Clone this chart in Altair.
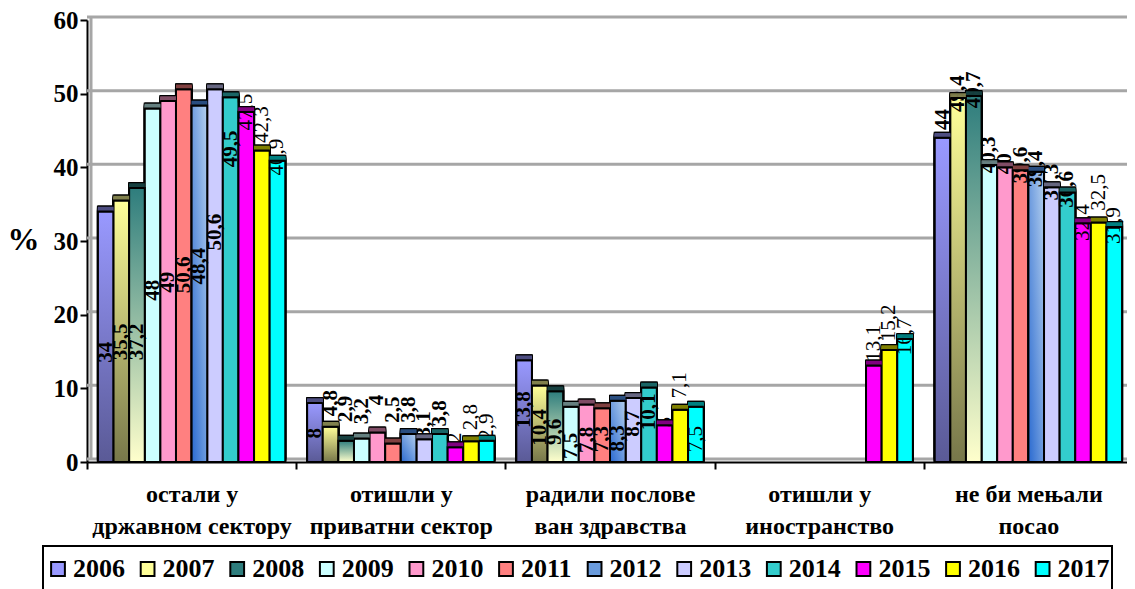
import altair as alt
import pandas as pd

cats = ["остали у|државном сектору", "отишли у|приватни сектор", "радили послове|ван здравства",
        "отишли у|иностранство", "не би мењали|посао"]
years = ["2006","2007","2008","2009","2010","2011","2012","2013","2014","2015","2016","2017"]

v_drzavni = [34, 35.5, 37.2, 48, 49, 50.6, 48.4, 50.6, 49.5, 47.5, 42.3, 40.9]
v_privatni = [8, 4.8, 2.9, 3.2, 4, 2.5, 3.8, 3.1, 3.8, 2, 2.8, 2.9]
v_van = [13.8, 10.4, 9.6, 7.5, 7.8, 7.3, 8.3, 8.7, 10.1, 5, 7.1, 7.5]
v_ino = [None]*9 + [13.1, 15.2, 16.7]
v_ne = [44, 49.4, 49.7, 40.3, 40, 39.6, 39.4, 37.3, 36.6, 32.4, 32.5, 31.9]
series = [v_drzavni, v_privatni, v_van, v_ino, v_ne]

# where each data label sits, in axis units
p_drzavni = [14.9, 16.3, 16.3, 23.3, 24.4, 25.4, 26.6, 31.2, 42.5, 47.5, 45.8, 41.4]
p_privatni = [3.9, 8, 7.2, 6.9, 8.4, 7.1, 7.1, 5.1, 6.6, 3.3, 6.1, 4.8]
p_van = [7.1, 4.7, 4.1, 2.2, 3, 3.1, 3.2, 5.2, 6.8, 5.4, 10.4, 3.1]
p_ino = [None]*9 + [16.1, 18.9, 17]
p_ne = [46.5, 50, 50.5, 41.7, 40.5, 40.3, 39.8, 38, 37, 32.5, 36.6, 32.1]
label_pos = [p_drzavni, p_privatni, p_van, p_ino, p_ne]

front = ["#9999FF","#FFFF99","#2E7D7D","#CCFFFF","#FF99CC","#FF8080","#6A9BDC","#CCCCFF","#33CCCC","#FF00FF","#FFFF00","#00FFFF"]
dark  = ["#4D4D80","#80804D","#174040","#668080","#804D66","#804040","#2A4E80","#666680","#1A6666","#800080","#808000","#008080"]
grid_values = [0, 10, 20, 30, 40, 50, 60]

gradients = {
    "2006": ("#9999FF", "#5A5A96", 0, 1, 0, 0),
    "2007": ("#FFFF99", "#77774A", 0, 1, 0, 0),
    "2008": ("#2E7D7D", "#FFFFCC", 0, 1, 0, 0),
    "2012": ("#2A6AD0", "#B4CFEE", 1, 0, 0, 1),
}

rows = []
for c, vals, poss in zip(cats, series, label_pos):
    for i, (y, v, p) in enumerate(zip(years, vals, poss)):
        if v is None:
            continue
        rows.append({"cat": c, "year": y, "v": v, "p": p, "dark": dark[i],
                     "lab": f"{v:g}".replace(".", ",")})
df = pd.DataFrame(rows)

FONT = "Liberation Serif"
DEPTH = 5
y_scale = alt.Scale(domain=[0, 60], nice=False)
y_axis = alt.Axis(title="%", titleAngle=0, titleFont=FONT, titleFontSize=32, titleFontWeight="bold",
                  titleColor="black", titleX=-64, titleY=236, values=grid_values, grid=False,
                  labelFont=FONT, labelFontSize=25, labelFontWeight="bold", labelColor="black",
                  tickColor="black", tickWidth=2, tickSize=7, domainColor="black", domainWidth=2,
                  labelPadding=2)
X = alt.X("cat:N", sort=cats, scale=alt.Scale(range=[0, 1046], paddingInner=0, paddingOuter=0),
          axis=alt.Axis(title=None, labelExpr="split(datum.label,'|')", labelAngle=0, tickBand="extent",
                        labelFont=FONT, labelFontSize=24, labelFontWeight="bold", labelColor="black",
                        labelLineHeight=32, labelPadding=13, tickColor="black", tickWidth=2, tickSize=7,
                        domainColor="black", domainWidth=2, labelLimit=260))
XO = alt.XOffset("year:N", sort=years, scale=alt.Scale(paddingOuter=0.7, paddingInner=0))
Y = alt.Y("v:Q", scale=y_scale, axis=y_axis)
base = alt.Chart(df)

grid = alt.Chart(pd.DataFrame({"g": grid_values})).mark_rule(color="#a6a6a6", strokeWidth=3, yOffset=-3).encode(
    y=alt.Y("g:Q", scale=y_scale, axis=y_axis))
wall = alt.Chart(pd.DataFrame({"g": [0]})).mark_rule(color="#a6a6a6", strokeWidth=3).encode(
    x=alt.value(4), y=alt.value(-3), y2=alt.value(442 - 3))

def shifted(d, **mk):
    return base.mark_bar(xOffset=d, x2Offset=d, yOffset=-d, y2Offset=-d, **mk)

layers = [grid, wall]
for d in range(DEPTH, 0, -1):
    layers.append(shifted(d, stroke="black", strokeWidth=2).encode(x=X, xOffset=XO, y=Y, fill=alt.value("black")))
for d in range(DEPTH, 0, -1):
    layers.append(shifted(d).encode(x=X, xOffset=XO, y=Y, fill=alt.Fill("dark:N", scale=None)))

layers.append(base.mark_bar(stroke="black", strokeWidth=2).encode(
    x=X, xOffset=XO, y=Y,
    color=alt.Color("year:N", sort=years, scale=alt.Scale(domain=years, range=front),
                    legend=alt.Legend(title=None, orient="none", legendX=-44, legendY=526, columns=12,
                                      columnPadding=9.6, labelFont=FONT, labelFontSize=26, labelFontWeight="bold",
                                      labelColor="black", symbolType="square", symbolSize=190,
                                      symbolStrokeColor="black", symbolStrokeWidth=2, labelOffset=2,
                                      padding=2, clipHeight=42, strokeColor="black"))))
for yr, (c0, c1, x1, y1, x2, y2) in gradients.items():
    g = {"gradient": "linear", "x1": x1, "y1": y1, "x2": x2, "y2": y2,
         "stops": [{"offset": 0, "color": c1}, {"offset": 1, "color": c0}]}
    layers.append(base.transform_filter(f"datum.year=='{yr}'").mark_bar(stroke="black", strokeWidth=2, color=g).encode(
        x=X, xOffset=XO, y=Y))

heavy = "datum.year < '2015'"
layers.append(base.transform_filter(heavy).mark_text(angle=270, font=FONT, fontSize=21, fontWeight="bold", color="black").encode(
    x=X, xOffset=XO, y=alt.Y("p:Q", scale=y_scale), text="lab:N"))
layers.append(base.transform_filter("!(" + heavy + ")").mark_text(angle=270, font=FONT, fontSize=21, color="black").encode(
    x=X, xOffset=XO, y=alt.Y("p:Q", scale=y_scale), text="lab:N"))

# top faces sit over the labels
for d in range(DEPTH, -1, -1):
    edge = d in (0, DEPTH)
    mk = dict(xOffset=d, x2Offset=d, yOffset=-d, y2Offset=-d, strokeWidth=2 if edge else 1.5)
    stroke = alt.value("black") if edge else alt.Stroke("dark:N", scale=None)
    layers.append(base.mark_bar(**mk).encode(
        x=X, xOffset=XO, y=Y, y2=alt.Y2("v:Q"), stroke=stroke))

chart = alt.layer(*layers).properties(
    width=1040, height=442,
    autosize=alt.AutoSizeParams(type="none"),
    padding={"left": 79, "top": 12, "right": 0, "bottom": 127},
).configure_view(stroke=None).configure_legend(strokeWidth=2)

chart.save("out.html", embed_options={"renderer": "svg", "actions": False})
